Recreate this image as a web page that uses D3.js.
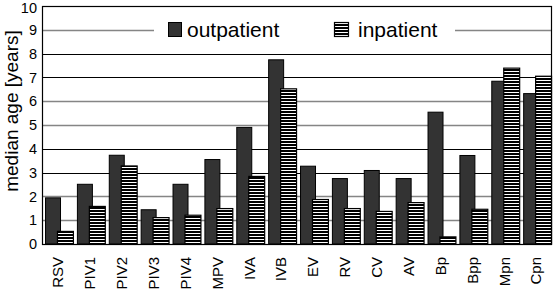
<!DOCTYPE html>
<html><head><meta charset="utf-8">
<script src="https://cdn.jsdelivr.net/npm/d3@7"></script>
<style>body{margin:0;background:#fff}svg{display:block}text{font-family:"Liberation Sans",Arial,sans-serif}</style>
</head><body><svg id="c" width="554" height="291"></svg>
<script>
const categories = ["RSV","PIV1","PIV2","PIV3","PIV4","MPV","IVA","IVB","EV","RV","CV","AV","Bp","Bpp","Mpn","Cpn"];
const outpatient = [1.96,2.53,3.75,1.46,2.53,3.57,4.92,7.76,3.29,2.77,3.11,2.77,5.56,3.74,6.86,6.34];
const inpatient  = [0.55,1.6,3.3,1.13,1.23,1.51,2.86,6.54,1.89,1.51,1.39,1.76,0.32,1.48,7.41,7.07];
const yTicks = [0,1,2,3,4,5,6,7,8,9,10];
const seriesNames = ["outpatient","inpatient"];

const svg = d3.select("#c");
const L=42, R=552, T=6, B=244;
const x = d3.scaleBand().domain(categories).range([L,R]).padding(0);
const y = d3.scaleLinear().domain([0,10]).range([B,T]);
const bw = x.bandwidth();
const FONT = "'Liberation Sans',Arial,sans-serif";

const defs = svg.append("defs");
const pat = defs.append("pattern").attr("id","stripes").attr("patternUnits","userSpaceOnUse")
  .attr("width",4).attr("height",3);
pat.append("rect").attr("width",4).attr("height",3).attr("fill","#fff");
pat.append("rect").attr("width",4).attr("height",2).attr("fill","#000");

// gridlines
const darkLines = new Set([3,4,7,8]);
svg.append("g").selectAll("line").data(yTicks.filter(d=>d>0&&d<10)).join("line")
  .attr("x1",L).attr("x2",R).attr("y1",d=>Math.round(y(d))+0.5).attr("y2",d=>Math.round(y(d))+0.5)
  .attr("stroke",d=>darkLines.has(d)?"#000":"#858585")
  .attr("stroke-width",d=>darkLines.has(d)?1:1.6);

// legend background
svg.append("rect").attr("x",154).attr("y",15).attr("width",301).attr("height",28).attr("fill","#fff");

// bars
const g = svg.append("g");
categories.forEach((c,i)=>{
  const x0 = x(c);
  g.append("rect").attr("x",x0+bw*0.095+0.5).attr("y",y(outpatient[i])+0.5)
    .attr("width",bw*0.47).attr("height",B-y(outpatient[i])-0.5)
    .attr("fill","#333").attr("stroke","#000").attr("stroke-width",1);
  g.append("rect").attr("x",x0+bw*0.47+0.5).attr("y",y(inpatient[i])+0.5)
    .attr("width",bw*0.5).attr("height",B-y(inpatient[i])-0.5)
    .attr("fill","url(#stripes)").attr("stroke","#000").attr("stroke-width",1.2);
});

// frame
svg.append("rect").attr("x",L+0.5).attr("y",T+0.5).attr("width",R-L-1).attr("height",B-T)
  .attr("fill","none").attr("stroke","#000").attr("stroke-width",1.2);

// y axis
const ya = svg.append("g").attr("transform",`translate(${L},0)`).call(d3.axisLeft(y).tickValues(yTicks).tickSize(0).tickPadding(5));
ya.select(".domain").remove();
ya.selectAll("text").attr("font-size",14.5).attr("fill","#000").attr("font-family",FONT)
  .attr("dy",d=>d===10?"0.42em":"0.32em");

// x axis
const xa = svg.append("g").attr("transform",`translate(0,${B})`).call(d3.axisBottom(x).tickSize(0));
xa.select(".domain").remove();
xa.selectAll("text").attr("font-size",15).attr("fill","#000").attr("font-family",FONT)
  .attr("transform","rotate(-90)").attr("text-anchor","end")
  .attr("x",-13).attr("y",0).attr("dy","0.36em").attr("dx",0);

// y title
svg.append("text").attr("transform","translate(18,111) rotate(-90)").attr("text-anchor","middle")
  .attr("font-size",19).attr("fill","#000").attr("font-family",FONT).text("median age [years]");

// legend
svg.append("rect").attr("x",168.5).attr("y",22.5).attr("width",13).attr("height",14).attr("fill","#333").attr("stroke","#000");
svg.append("text").attr("x",187).attr("y",37).attr("font-size",21).attr("fill","#000").attr("font-family",FONT).text(seriesNames[0]);
svg.append("rect").attr("x",334.5).attr("y",22.5).attr("width",14).attr("height",14).attr("fill","url(#stripes)").attr("stroke","#000").attr("stroke-width",1.2);
svg.append("text").attr("x",358).attr("y",37).attr("font-size",21).attr("fill","#000").attr("font-family",FONT).text(seriesNames[1]);
</script></body></html>
